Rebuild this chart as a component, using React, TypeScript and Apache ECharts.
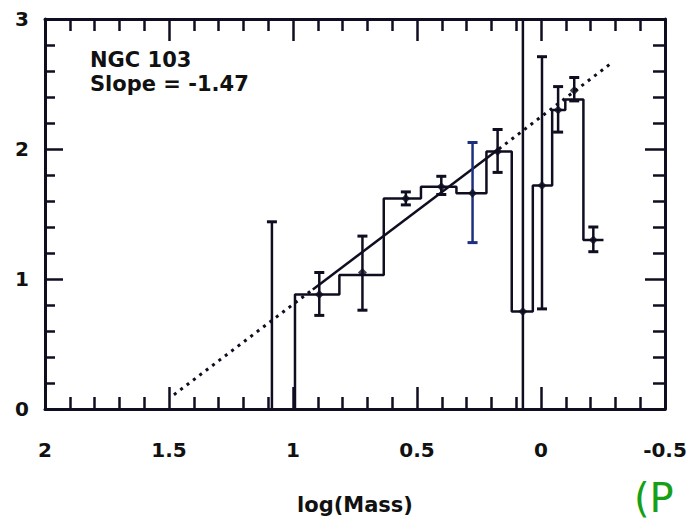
import React, { useEffect, useRef } from "react";
import * as echarts from "echarts";

// Histogram (varying bin widths): bin edges in log(Mass), and level of each bin
const binEdges = [0.992, 0.813, 0.634, 0.484, 0.341, 0.22, 0.118, 0.033, -0.045, -0.098, -0.171, -0.252];
const binLevels = [0.88, 1.03, 1.62, 1.71, 1.66, 1.98, 0.75, 1.72, 2.3, 2.38, 1.3];

// Data points with error bars
const errX = [1.085, 0.894, 0.72, 0.545, 0.402, 0.276, 0.175, 0.073, -0.004, -0.069, -0.134, -0.211];
const pointY = [null, 0.88, 1.05, 1.62, 1.71, 1.66, 1.98, 0.75, 1.72, 2.3, 2.45, 1.3];
const errLow = [0, 0.72, 0.76, 1.57, 1.65, 1.28, 1.82, 0, 0.77, 2.13, 2.37, 1.21];
const errHigh = [1.44, 1.05, 1.33, 1.67, 1.79, 2.05, 2.15, 3.0, 2.71, 2.48, 2.55, 1.4];
const blueBarIndex = 5;

// Power-law fit (Slope = -1.47): dotted / solid / dotted segments
const fitDotLow = [[1.48, 0.11], [0.92, 0.92]];
const fitSolid = [[0.92, 0.92], [0.17, 2.0]];
const fitDotHigh = [[0.17, 2.0], [-0.29, 2.67]];

const xTicks = ["2", "1.5", "1", "0.5", "0", "-0.5"];
const yTicks = ["0", "1", "2", "3"];

const INK = "#0e0e20";
const FONT = "DejaVu Sans";

export default function App() {
  const ref = useRef<HTMLDivElement>(null);
  useEffect(() => {
    if (!ref.current) return;
    const chart = echarts.init(ref.current, undefined, { renderer: "svg" });

    const histData: number[][] = [[binEdges[0], 0]];
    for (let i = 0; i < binLevels.length; i++) {
      histData.push([binEdges[i], binLevels[i]]);
      histData.push([binEdges[i + 1], binLevels[i]]);
    }
    const pts = errX
      .map((x, i) => (pointY[i] == null ? null : [x, pointY[i]]))
      .filter((d) => d != null);
    const errData = errX.map((x, i) => [x, errLow[i], errHigh[i]]);

    const fmtX = (v: number) => {
      const s = String(Math.round(v * 10) / 10);
      return xTicks.indexOf(s) >= 0 ? s : "";
    };
    const fmtY = (v: number) => {
      const s = String(Math.round(v));
      return yTicks.indexOf(s) >= 0 ? s : "";
    };

    const axisLine = { show: true, onZero: false, lineStyle: { color: INK, width: 3 } };

    chart.setOption({
      animation: false,
      backgroundColor: "#ffffff",
      grid: { left: 45, right: 21, top: 19, bottom: 115, containLabel: false, outerBoundsMode: "none" },
      xAxis: [
        {
          type: "value",
          position: "bottom",
          inverse: true,
          min: -0.5,
          max: 2,
          interval: 0.5,
          axisLine,
          axisTick: { show: true, inside: true, length: 22, lineStyle: { color: INK, width: 2.5 } },
          minorTick: { show: true, splitNumber: 5, length: 12, lineStyle: { color: INK, width: 2.5 } },
          splitLine: { show: false },
          axisLabel: {
            show: true,
            margin: 31,
            color: "#111",
            fontFamily: FONT,
            fontWeight: "bold",
            fontSize: 20,
            formatter: fmtX,
          },
          name: "log(Mass)",
          nameLocation: "middle",
          nameGap: 85,
          nameTextStyle: { color: "#111", fontFamily: FONT, fontWeight: "bold", fontSize: 21, verticalAlign: "top" },
        },
        {
          type: "value",
          position: "top",
          inverse: true,
          min: -0.5,
          max: 2,
          interval: 0.5,
          axisLine,
          axisTick: { show: true, inside: true, length: 22, lineStyle: { color: INK, width: 2.5 } },
          minorTick: { show: true, splitNumber: 5, length: 12, lineStyle: { color: INK, width: 2.5 } },
          splitLine: { show: false },
          axisLabel: { show: false },
        },
      ],
      yAxis: [
        {
          type: "value",
          position: "left",
          min: 0,
          max: 3,
          interval: 1,
          axisLine,
          axisTick: { show: true, inside: true, length: 18, lineStyle: { color: INK, width: 2.5 } },
          minorTick: { show: true, splitNumber: 5, length: 10, lineStyle: { color: INK, width: 2.5 } },
          splitLine: { show: false },
          axisLabel: {
            show: true,
            margin: 16,
            color: "#111",
            fontFamily: FONT,
            fontWeight: "bold",
            fontSize: 20,
            padding: [9, 0, 0, 0],
            formatter: fmtY,
          },
        },
        {
          type: "value",
          position: "right",
          min: 0,
          max: 3,
          interval: 1,
          axisLine,
          axisTick: { show: true, inside: true, length: 20, lineStyle: { color: INK, width: 2.5 } },
          minorTick: { show: true, splitNumber: 5, length: 12, lineStyle: { color: INK, width: 2.5 } },
          splitLine: { show: false },
          axisLabel: { show: false },
        },
      ],
      series: [
        {
          type: "line",
          name: "fitDotLow",
          data: fitDotLow,
          symbol: "none",
          lineStyle: { color: INK, width: 3, type: [3, 5] },
          z: 3,
        },
        {
          type: "line",
          name: "fitSolid",
          data: fitSolid,
          symbol: "none",
          lineStyle: { color: INK, width: 2.5, type: "solid" },
          z: 3,
        },
        {
          type: "line",
          name: "fitDotHigh",
          data: fitDotHigh,
          symbol: "none",
          lineStyle: { color: INK, width: 3, type: [3, 5] },
          z: 3,
        },
        {
          type: "line",
          name: "histogram",
          data: histData,
          symbol: "none",
          lineStyle: { color: INK, width: 2.5 },
          z: 4,
        },
        {
          type: "custom",
          name: "errors",
          data: errData,
          clip: true,
          z: 5,
          renderItem: (params: any, api: any) => {
            const x = api.value(0);
            const lo = api.value(1);
            const hi = api.value(2);
            const pLo = api.coord([x, lo]);
            const pHi = api.coord([x, hi]);
            const color = params.dataIndex === blueBarIndex ? "#1f2f80" : INK;
            const style = { stroke: color, lineWidth: 2.5 };
            const half = 5;
            const children: any[] = [
              { type: "line", shape: { x1: pLo[0], y1: pLo[1], x2: pHi[0], y2: pHi[1] }, style },
            ];
            if (hi < 3) {
              children.push({
                type: "line",
                shape: { x1: pHi[0] - half, y1: pHi[1], x2: pHi[0] + half, y2: pHi[1] },
                style: { stroke: color, lineWidth: 3 },
              });
            }
            if (lo > 0) {
              children.push({
                type: "line",
                shape: { x1: pLo[0] - half, y1: pLo[1], x2: pLo[0] + half, y2: pLo[1] },
                style: { stroke: color, lineWidth: 3 },
              });
            }
            return { type: "group", children };
          },
        },
        {
          type: "scatter",
          name: "points",
          data: pts,
          symbol: "diamond",
          symbolSize: 9,
          itemStyle: { color: INK },
          z: 6,
        },
      ],
      graphic: [
        {
          type: "text",
          left: 90,
          top: 49,
          style: { text: "NGC 103", fill: "#111", font: `bold 21px "${FONT}"` },
        },
        {
          type: "text",
          left: 90,
          top: 73,
          style: { text: "Slope = -1.47", fill: "#111", font: `bold 21px "${FONT}"` },
        },
        {
          type: "text",
          left: 634,
          top: 478,
          style: { text: "(P", fill: "#16a016", font: `40px "${FONT}"` },
        },
      ],
    });
    return () => chart.dispose();
  }, []);

  return (
    <div
      ref={ref}
      style={{ position: "fixed", left: 0, top: 0, width: 686, height: 524, background: "#fff" }}
    />
  );
}
